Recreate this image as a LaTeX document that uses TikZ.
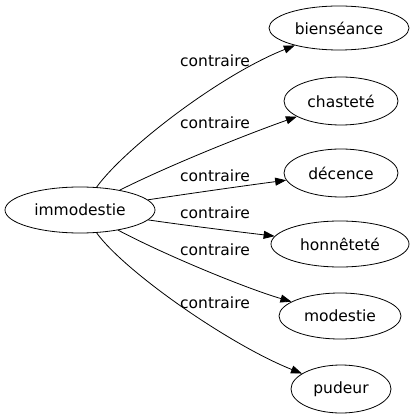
\documentclass[tikz,border=0pt]{standalone}
\usepackage{fontspec}
\setmainfont{DejaVu Sans}
\usetikzlibrary{arrows.meta,shapes.geometric}
\begin{document}
\begin{tikzpicture}[x=1pt,y=-1pt,
  word/.style={draw,ellipse,inner sep=0pt,font=\fontsize{15.5}{18}\selectfont,line width=0.8pt},
  rel/.style={font=\fontsize{15.5}{18}\selectfont,inner sep=0pt},
  edge/.style={line width=0.8pt,-{Triangle[length=11pt,width=8pt]}}]
\useasboundingbox (0,0) rectangle (419,419);
\node[word,minimum width=150pt,minimum height=46pt] (immo) at (80,210) {immodestie};
\node[word,minimum width=140pt,minimum height=44pt] (bien) at (339,28) {bienséance};
\node[word,minimum width=114pt,minimum height=48pt] (chas) at (341,101) {chasteté};
\node[word,minimum width=114pt,minimum height=48pt] (dece) at (341,173) {décence};
\node[word,minimum width=138pt,minimum height=46pt] (honn) at (340,244) {honnêteté};
\node[word,minimum width=122pt,minimum height=46pt] (mode) at (340,316) {modestie};
\node[word,minimum width=100pt,minimum height=48pt] (pude) at (341,389) {pudeur};
\node[rel] (l1) at (215,61) {contraire};
\node[rel] (l2) at (215,123) {contraire};
\node[rel] (l3) at (215,176) {contraire};
\node[rel] (l4) at (215,213) {contraire};
\node[rel] (l5) at (215,250) {contraire};
\node[rel] (l6) at (215,303) {contraire};
\draw[edge] (immo) .. controls (125,148) and (220,75) .. (bien);
\draw[edge] (immo) .. controls (170,165) and (245,135) .. (chas);
\draw[edge] (immo) .. controls (200,192) and (250,185) .. (dece);
\draw[edge] (immo) .. controls (190,226) and (240,232) .. (honn);
\draw[edge] (immo) .. controls (165,255) and (245,288) .. (mode);
\draw[edge] (immo) .. controls (125,272) and (230,345) .. (pude);
\end{tikzpicture}
\end{document}
